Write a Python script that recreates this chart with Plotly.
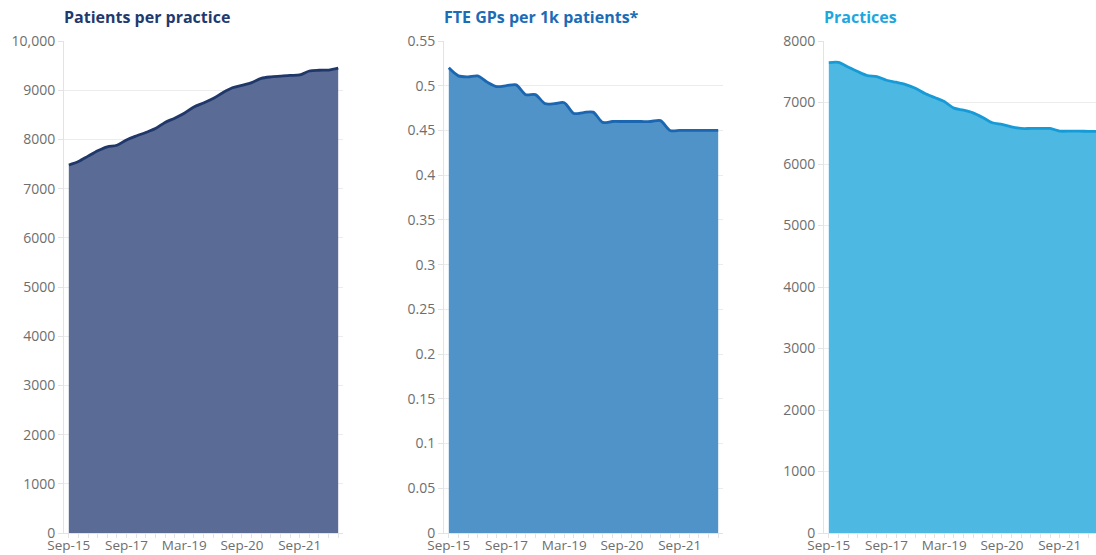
import plotly.graph_objects as go

# ---- data ----
dates = ["Sep-15", "Dec-15", "Mar-16", "Jun-16", "Sep-16", "Mar-17", "Sep-17", "Dec-17",
         "Mar-18", "Jun-18", "Sep-18", "Dec-18", "Mar-19", "Jun-19", "Sep-19", "Dec-19",
         "Mar-20", "Jun-20", "Sep-20", "Nov-20", "Jan-21", "Mar-21", "May-21", "Jul-21",
         "Sep-21", "Nov-21", "Jan-22", "Mar-22", "May-22"]
tick_labels = ["Sep-15", "Sep-17", "Mar-19", "Sep-20", "Sep-21"]

patients_per_practice = [7480, 7550, 7660, 7770, 7850, 7880, 7990, 8070, 8140, 8220,
                         8345, 8430, 8530, 8660, 8740, 8830, 8950, 9050, 9100, 9155,
                         9240, 9270, 9285, 9300, 9310, 9390, 9405, 9410, 9450]
fte_gps_per_1k = [0.520, 0.511, 0.510, 0.511, 0.504, 0.499, 0.500, 0.501, 0.490, 0.490,
                  0.480, 0.480, 0.481, 0.469, 0.470, 0.4705, 0.459, 0.460, 0.460, 0.460,
                  0.460, 0.460, 0.461, 0.450, 0.450, 0.450, 0.450, 0.450, 0.450]
practices = [7649, 7654, 7578, 7503, 7438, 7422, 7362, 7330, 7292, 7232,
             7146, 7081, 7016, 6908, 6876, 6832, 6757, 6670, 6643, 6605,
             6578, 6578, 6578, 6578, 6535, 6535, 6535, 6530, 6530]

titles = ["Patients per practice", "FTE GPs per 1k patients*", "Practices"]
y1_ticks = [0, 1000, 2000, 3000, 4000, 5000, 6000, 7000, 8000, 9000, 10000]
y1_text = ["0", "1000", "2000", "3000", "4000", "5000", "6000", "7000", "8000", "9000", "10,000"]
y2_ticks = [0, 0.05, 0.1, 0.15, 0.2, 0.25, 0.3, 0.35, 0.4, 0.45, 0.5, 0.55]
y2_text = ["0", "0.05", "0.1", "0.15", "0.2", "0.25", "0.3", "0.35", "0.4", "0.45", "0.5", "0.55"]
y3_ticks = [0, 1000, 2000, 3000, 4000, 5000, 6000, 7000, 8000]
y3_text = ["0", "1000", "2000", "3000", "4000", "5000", "6000", "7000", "8000"]

# ---- style ----
W, H = 1096, 555
line_cols = ["#1f3769", "#1b66b0", "#169bd7"]
fill_cols = ["#5a6b96", "#5093c8", "#4db8e2"]
title_cols = ["#1f3a6e", "#1b6cb6", "#1ea6df"]
font_family = "Open Sans, Noto Sans, sans-serif"
tick_col = "#6e6e6e"
grid_col = "#ececec"

axis_px = [64, 444, 824]
plot_w = 279
cat_px = plot_w / len(dates)

fig = go.Figure()
series = [patients_per_practice, fte_gps_per_1k, practices]
for i, ys in enumerate(series):
    suffix = "" if i == 0 else str(i + 1)
    fig.add_trace(go.Scatter(
        x=dates, y=ys, mode="lines", fill="tozeroy",
        line=dict(color=line_cols[i], width=2.8, shape="spline", smoothing=0.8),
        fillcolor=fill_cols[i], showlegend=False, hoverinfo="x+y",
        xaxis="x" + suffix, yaxis="y" + suffix))

y_dom = [(H - 533) / H, (H - 41) / H]
tickvals_x = dates
ticktext_x = [d if d in tick_labels and dates.index(d) % 6 == 0 else "" for d in dates]

layout = dict(width=W, height=H, margin=dict(l=0, r=0, t=0, b=0, pad=0),
              template="none",
              paper_bgcolor="white", plot_bgcolor="white",
              font=dict(family=font_family, color=tick_col, size=13))

yticks = [(y1_ticks, y1_text, [0, 10000]), (y2_ticks, y2_text, [0, 0.55]),
          (y3_ticks, y3_text, [0, 8000])]
for i in range(3):
    suffix = "" if i == 0 else str(i + 1)
    x0 = axis_px[i] / W
    if i < 2:
        x1 = (axis_px[i] + plot_w) / W
        xr = [-0.5, len(dates) - 0.5]
    else:
        x1 = 1.0
        xr = [-0.5, -0.5 + (W - axis_px[i]) / cat_px]
    layout["xaxis" + suffix] = dict(
        domain=[x0, x1], anchor="y" + suffix, type="category", range=xr,
        automargin=False,
        tickmode="array", tickvals=tickvals_x, ticktext=ticktext_x,
        ticks="outside", ticklen=4, tickcolor="#e3e3e3", tickwidth=1,
        ticklabelstandoff=-4,
        showgrid=False, showline=True, linecolor="#e3e3e3", linewidth=1,
        zeroline=False, tickangle=0,
        tickfont=dict(size=13.5, color=tick_col, family=font_family))
    tv, tt, rng = yticks[i]
    layout["yaxis" + suffix] = dict(
        domain=y_dom, anchor="x" + suffix, range=rng, automargin=False,
        tickmode="array", tickvals=tv, ticktext=tt,
        ticks="outside", ticklen=5, tickcolor="#e3e3e3",
        showgrid=True, gridcolor=grid_col, gridwidth=1,
        showline=True, linecolor="#e3e3e3", linewidth=1, zeroline=False,
        tickfont=dict(size=14, color=tick_col, family=font_family))

fig.update_layout(**layout)

for i, t in enumerate(titles):
    fig.add_annotation(text="<b>" + t + "</b>", xref="paper", yref="paper",
                       x=(axis_px[i] - 2) / W, y=(H - 17) / H,
                       xanchor="left", yanchor="middle", showarrow=False,
                       font=dict(size=16, color=title_cols[i], family=font_family))

fig.write_html("out.html", config={"displayModeBar": False},
               post_script="document.body.style.margin='0';")
